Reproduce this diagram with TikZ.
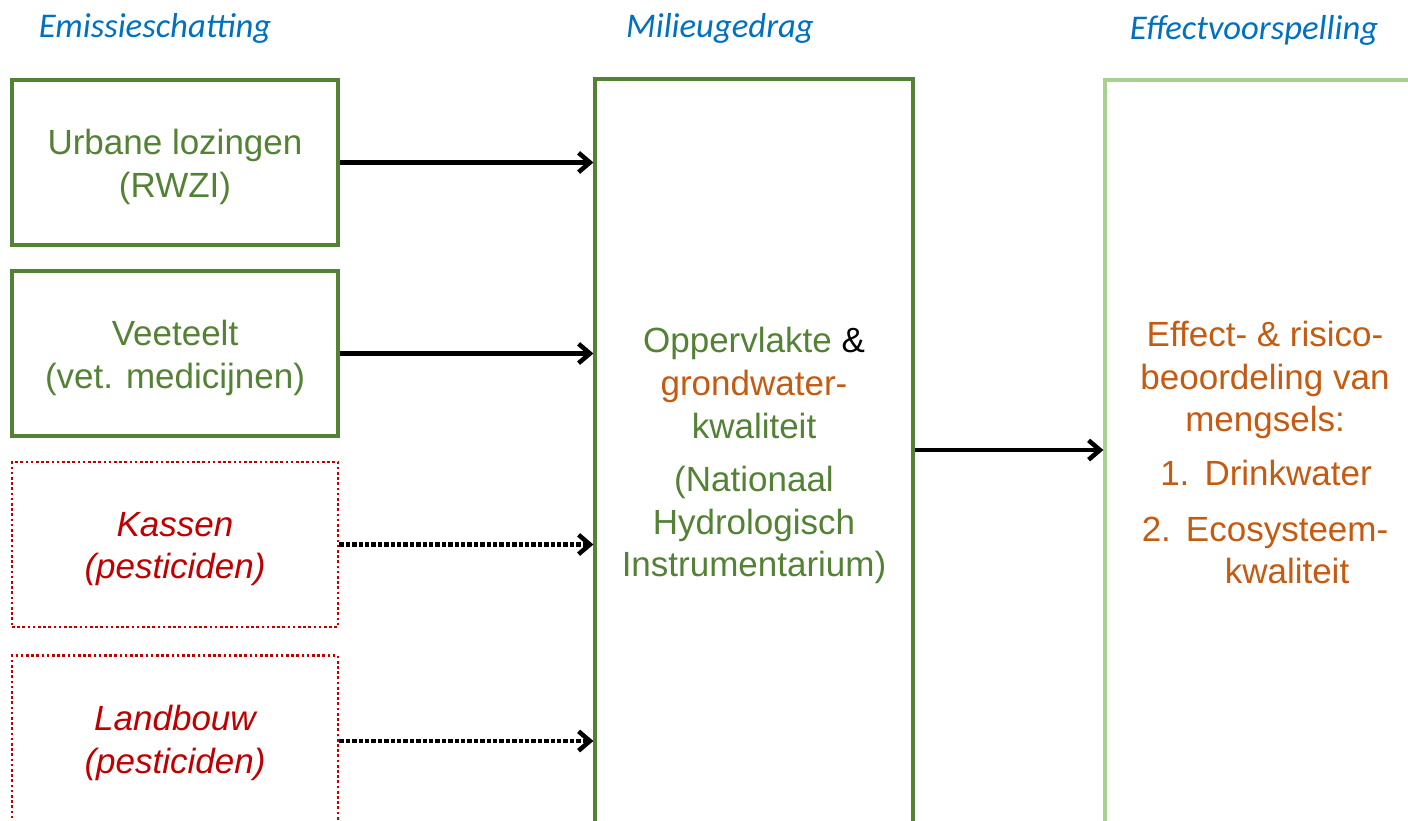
\documentclass[tikz,border=0pt]{standalone}
\usepackage{fontspec}
\setmainfont{Liberation Sans}
\newfontfamily\hdrfont{Carlito}
\usetikzlibrary{arrows.meta}
\definecolor{grn}{HTML}{548235}
\definecolor{lgrn}{HTML}{A9D18E}
\definecolor{org}{HTML}{C55A11}
\definecolor{rd}{HTML}{C00000}
\definecolor{blu}{HTML}{0070C0}
\begin{document}
\begin{tikzpicture}[x=0.75pt,y=-0.75pt,
 hdr/.style={font=\hdrfont\itshape\fontsize{26}{31}\selectfont, text=blu, inner sep=0, anchor=base},
 txt/.style={font=\fontsize{26.25}{32}\selectfont, align=center, inner sep=0},
 itxt/.style={font=\itshape\fontsize{26.25}{32}\selectfont, align=center, inner sep=0},
 srcbox/.style={draw=grn, line width=2.4pt, minimum width=244.5pt, minimum height=123.75pt, inner sep=0},
 pestbox/.style={draw=rd, line width=2.2pt, dash pattern=on 2pt off 1.9pt, minimum width=244.5pt, minimum height=123.75pt, inner sep=0},
 bigbox/.style={line width=2.4pt, inner sep=0},
 arr/.style={line width=3.4pt, -{Straight Barb[length=8.5pt,width=14.5pt]}},
 darr/.style={arr, dash pattern=on 3.2pt off 1.6pt},
]
\useasboundingbox (0,0) rectangle (1408,820);
\clip (0,0) rectangle (1408,820);

% headers
\node[hdr] (h1) at (155,38) {Emissieschatting};
\node[hdr] (h2) at (720,38) {Milieugedrag};
\node[hdr] (h3) at (1254,40) {Effectvoorspelling};

% source boxes
\node[srcbox] (b1) at (175,162.5) {};
\node[srcbox] (b2) at (175,353.5) {};
\node[pestbox] (b3) at (175,544.5) {};
\node[pestbox, minimum height=128pt] (b4) at (175,741) {};
\node[txt, text=grn] (b1t) at (175,167) {Urbane lozingen\\(RWZI)};
\node[txt, text=grn] (b2t) at (175,358) {Veeteelt\\(vet. medicijnen)};
\node[itxt, text=rd] (b3t) at (175,549) {Kassen\\(pesticiden)};
\node[itxt, text=rd] (b4t) at (175,743) {Landbouw\\(pesticiden)};

% middle box
\node[bigbox, draw=grn, minimum width=238.5pt, minimum height=615.75pt] (mid) at (754,489.5) {};
\node[txt, text=grn] (midA) at (754,383) {Oppervlakte \textcolor{black}{\&}\\\textcolor{org}{grondwater-}\\kwaliteit};
\node[txt, text=grn] (midB) at (754,525) {(Nationaal\\Hydrologisch\\Instrumentarium)};

% right box
\node[bigbox, draw=lgrn, minimum width=266.25pt, minimum height=615pt] (rbox) at (1282.5,490) {};
\node[txt, text=org] (rA) at (1265,380) {Effect- \& risico-\\beoordeling van\\mengsels:};
\node[txt, text=org] (r1) at (1266,473) {1.\ \hspace{4pt}Drinkwater};
\node[txt, text=org] (r2) at (1265,533) {2.\ \hspace{4pt}Ecosysteem-};
\node[txt, text=org] (r3) at (1287,571) {kwaliteit};

% connectors
\draw[arr] (b1.east) -- (b1.east -| mid.west);
\draw[arr] (b2.east) -- (b2.east -| mid.west);
\draw[darr] (b3.east) -- (b3.east -| mid.west);
\draw[darr] (b4.east) -- (b4.east -| mid.west);
\coordinate (m2r) at ([yshift=29.6pt]mid.east);
\draw[arr] (m2r) -- (m2r -| rbox.west);
\end{tikzpicture}
\end{document}
